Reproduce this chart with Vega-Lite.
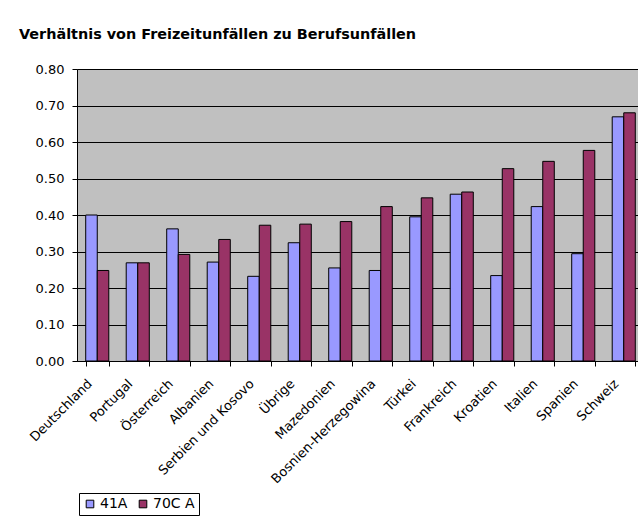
{
  "$schema": "https://vega.github.io/schema/vega-lite/v6.json",
  "width": 561,
  "height": 292,
  "autosize": {"type": "none"},
  "padding": {"left": 77, "top": 69, "right": 0, "bottom": 162},
  "background": "white",
  "title": {
    "text": "Verhältnis von Freizeitunfällen zu Berufsunfällen",
    "anchor": "start",
    "frame": "group",
    "dx": -58,
    "offset": 10,
    "baseline": "alphabetic",
    "font": "DejaVu Sans",
    "fontSize": 14.4,
    "fontWeight": "bold",
    "color": "black"
  },
  "data": {
    "values": [
      {"Land": "Deutschland", "Serie": "41A", "Wert": 0.400},
      {"Land": "Deutschland", "Serie": "70C A", "Wert": 0.248},
      {"Land": "Portugal", "Serie": "41A", "Wert": 0.269},
      {"Land": "Portugal", "Serie": "70C A", "Wert": 0.269},
      {"Land": "Österreich", "Serie": "41A", "Wert": 0.362},
      {"Land": "Österreich", "Serie": "70C A", "Wert": 0.292},
      {"Land": "Albanien", "Serie": "41A", "Wert": 0.271},
      {"Land": "Albanien", "Serie": "70C A", "Wert": 0.333},
      {"Land": "Serbien und Kosovo", "Serie": "41A", "Wert": 0.232},
      {"Land": "Serbien und Kosovo", "Serie": "70C A", "Wert": 0.372},
      {"Land": "Übrige", "Serie": "41A", "Wert": 0.324},
      {"Land": "Übrige", "Serie": "70C A", "Wert": 0.375},
      {"Land": "Mazedonien", "Serie": "41A", "Wert": 0.255},
      {"Land": "Mazedonien", "Serie": "70C A", "Wert": 0.382},
      {"Land": "Bosnien-Herzegowina", "Serie": "41A", "Wert": 0.248},
      {"Land": "Bosnien-Herzegowina", "Serie": "70C A", "Wert": 0.423},
      {"Land": "Türkei", "Serie": "41A", "Wert": 0.395},
      {"Land": "Türkei", "Serie": "70C A", "Wert": 0.447},
      {"Land": "Frankreich", "Serie": "41A", "Wert": 0.457},
      {"Land": "Frankreich", "Serie": "70C A", "Wert": 0.463},
      {"Land": "Kroatien", "Serie": "41A", "Wert": 0.234},
      {"Land": "Kroatien", "Serie": "70C A", "Wert": 0.527},
      {"Land": "Italien", "Serie": "41A", "Wert": 0.423},
      {"Land": "Italien", "Serie": "70C A", "Wert": 0.547},
      {"Land": "Spanien", "Serie": "41A", "Wert": 0.294},
      {"Land": "Spanien", "Serie": "70C A", "Wert": 0.577},
      {"Land": "Schweiz", "Serie": "41A", "Wert": 0.669},
      {"Land": "Schweiz", "Serie": "70C A", "Wert": 0.680}
    ]
  },
  "mark": {"type": "bar", "stroke": "black", "strokeWidth": 1},
  "encoding": {
    "x": {
      "field": "Land",
      "type": "nominal",
      "sort": null,
      "scale": {"range": [0, 567], "paddingInner": 0.43, "paddingOuter": 0.215},
      "axis": {
        "title": null,
        "labelAngle": -45,
        "labelAlign": "right",
        "labelBaseline": "top",
        "labelFont": "DejaVu Sans",
        "labelFontSize": 13,
        "labelColor": "black",
        "labelPadding": 11,
        "labelOffset": -12,
        "tickBand": "extent",
        "tickSize": 5,
        "tickColor": "black",
        "domainColor": "black",
        "labelOverlap": false
      }
    },
    "xOffset": {"field": "Serie", "type": "nominal", "sort": null},
    "y": {
      "field": "Wert",
      "type": "quantitative",
      "scale": {"domain": [0, 0.8], "nice": false},
      "axis": {
        "title": null,
        "values": [0, 0.1, 0.2, 0.3, 0.4, 0.5, 0.6, 0.7, 0.8],
        "format": ".2f",
        "labelFont": "DejaVu Sans",
        "labelFontSize": 13,
        "labelColor": "black",
        "labelPadding": 8,
        "tickSize": 5,
        "tickColor": "black",
        "domainColor": "black",
        "grid": true,
        "gridColor": "black",
        "gridOpacity": 1,
        "gridWidth": 1
      }
    },
    "color": {
      "field": "Serie",
      "type": "nominal",
      "sort": null,
      "scale": {"domain": ["41A", "70C A"], "range": ["#9999FF", "#993366"]},
      "legend": {
        "title": null,
        "orient": "none",
        "legendX": 2,
        "legendY": 424,
        "direction": "horizontal",
        "symbolType": "square",
        "symbolSize": 58,
        "symbolStrokeColor": "black",
        "symbolStrokeWidth": 1,
        "labelFont": "DejaVu Sans",
        "labelFontSize": 14,
        "labelColor": "black",
        "labelOffset": 3,
        "columnPadding": 8,
        "strokeColor": "black",
        "fillColor": "white",
        "padding": 4
      }
    }
  },
  "config": {
    "view": {"fill": "#C0C0C0", "stroke": "#808080"}
  }
}
